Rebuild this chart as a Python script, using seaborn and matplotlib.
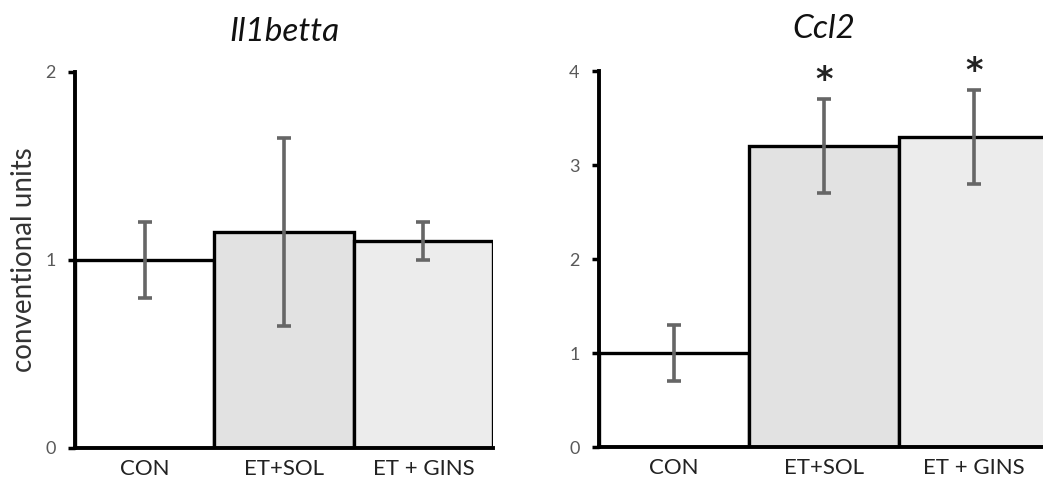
import matplotlib
matplotlib.use("Agg")
import matplotlib.pyplot as plt
import seaborn as sns
import pandas as pd

# Gene expression (conventional units), mean and error per group
groups = ["CON", "ET+SOL", "ET + GINS"]
il1b_mean = [1.0, 1.15, 1.1]
il1b_err = [0.2, 0.5, 0.1]
ccl2_mean = [1.0, 3.2, 3.3]
ccl2_err = [0.3, 0.5, 0.5]
ccl2_signif = ["", "*", "*"]

bar_colors = ["#ffffff", "#e2e2e2", "#ececec"]

sns.set_theme(style="white")
plt.rcParams["font.family"] = ["Lato", "DejaVu Sans"]

fig = plt.figure(figsize=(10.43, 4.78), dpi=100)
ax1 = fig.add_axes([75 / 1043, 30 / 478, 418 / 1043, 376 / 478])
ax2 = fig.add_axes([599 / 1043, 31 / 478, 450 / 1043, 376 / 478])


def draw_panel(ax, means, errs, title, ymax, signif=None, title_pad=22):
    df = pd.DataFrame({"group": groups, "value": means})
    sns.barplot(data=df, x="group", y="value", hue="group", palette=bar_colors,
                width=1.0, edgecolor="black", linewidth=2.4, legend=False,
                ax=ax, zorder=2)
    ax.errorbar(range(len(groups)), means, yerr=errs, fmt="none",
                ecolor="#666666", elinewidth=2.6, capsize=5, capthick=2.6,
                zorder=3)
    if signif:
        for i, s in enumerate(signif):
            if s:
                ax.text(i, means[i] + errs[i] + 0.2, s, ha="center",
                        va="center", fontsize=24, fontweight="bold",
                        family="DejaVu Sans", color="#222222", clip_on=False)
    ax.set_xlim(-0.5, len(groups) - 0.5)
    ax.set_ylim(0, ymax)
    ax.set_yticks(range(ymax + 1))
    ax.set_xlabel("")
    ax.set_ylabel("")
    ax.set_title(title, fontsize=24, fontstyle="italic", pad=title_pad,
                 color="#111111")
    for side in ("top", "right"):
        ax.spines[side].set_visible(False)
    for side in ("left", "bottom"):
        ax.spines[side].set_color("black")
        ax.spines[side].set_linewidth(2.8)
        ax.spines[side].set_zorder(4)
    ax.tick_params(axis="y", which="both", left=True, length=5, width=2.5,
                   color="black", labelsize=13, labelcolor="#595959",
                   pad=9)
    ax.tick_params(axis="x", bottom=False, labelsize=16, labelcolor="#222222",
                   pad=2)


draw_panel(ax1, il1b_mean, il1b_err, "Il1betta", 2, title_pad=22)
ax1.set_ylabel("conventional units", fontsize=20, color="#333333", labelpad=6)
draw_panel(ax2, ccl2_mean, ccl2_err, "Ccl2", 4, ccl2_signif, title_pad=24)

fig.savefig("out.png", dpi=100, facecolor="white")
